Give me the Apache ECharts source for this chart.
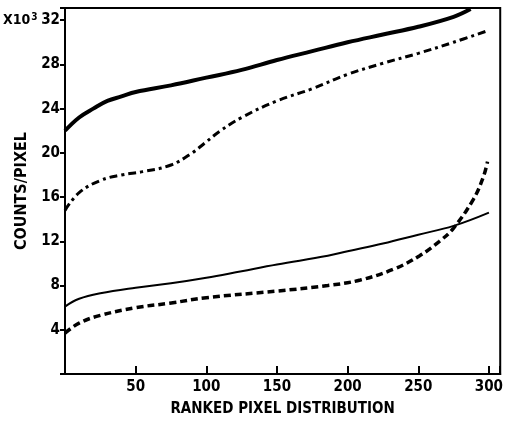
<!DOCTYPE html>
<html>
<head>
<meta charset="utf-8">
<script src="https://cdn.jsdelivr.net/npm/echarts@6/dist/echarts.min.js"></script>
<style>
  html, body { margin: 0; padding: 0; background: #fff; }
  #chart { width: 506px; height: 422px; }
</style>
</head>
<body>
<div id="chart"></div>
<script>
// counts per pixel (x10^3) vs ranked pixel index
const thickSolid = [[0, 22.0], [10, 23.2], [20, 24.0], [30, 24.7], [40, 25.1], [50, 25.5], [75, 26.1], [100, 26.8], [125, 27.5], [150, 28.4], [175, 29.2], [200, 30.0], [225, 30.7], [250, 31.4], [275, 32.3], [287, 33.0]]
const dashDot = [[0, 14.8], [10, 16.4], [25, 17.5], [40, 18.0], [55, 18.3], [75, 18.9], [90, 20.0], [100, 21.0], [110, 22.0], [125, 23.2], [150, 24.7], [175, 25.8], [200, 27.1], [225, 28.1], [250, 29.0], [275, 30.0], [298, 31.0]]
const thinSolid = [[0, 6.1], [10, 6.8], [25, 7.3], [50, 7.8], [75, 8.2], [100, 8.7], [125, 9.3], [150, 9.9], [186, 10.7], [200, 11.1], [225, 11.8], [250, 12.6], [275, 13.4], [300, 14.6]]
const dashed = [[0, 3.7], [10, 4.6], [25, 5.3], [50, 6.0], [74, 6.4], [100, 6.9], [150, 7.5], [186, 8.0], [209, 8.5], [233, 9.5], [251, 10.7], [265, 12.0], [275, 13.2], [289, 15.8], [296, 17.8], [299, 19.2]]

const yTicks = [4, 8, 12, 16, 20, 24, 28, 32]
const xTicks = [50, 100, 150, 200, 250, 300]

const font = '"Liberation Sans Narrow", "DejaVu Sans Condensed", "DejaVu Sans"'
const chart = echarts.init(document.getElementById('chart'))

const lineSeries = (data, width, type) => ({
  type: 'line',
  data: data,
  smooth: 0.4,
  showSymbol: false,
  lineStyle: { color: '#000', width: width, type: type },
  z: 3
})

const option = {
  animation: false,
  grid: {
    left: 65, right: 1, top: 8, bottom: 42,
    show: true, borderColor: '#000', borderWidth: 2
  },
  xAxis: {
    type: 'value',
    min: 0,
    max: 308,
    interval: 50,
    splitLine: { show: false },
    axisLine: { lineStyle: { color: '#000', width: 2 } },
    axisTick: { inside: true, length: 8, lineStyle: { color: '#000', width: 2 } },
    axisLabel: {
      margin: 6,
      color: '#000', fontFamily: font, fontWeight: 'bold', fontSize: 15,
      formatter: v => (xTicks.includes(v) ? String(v) : '')
    },
    name: 'RANKED PIXEL DISTRIBUTION',
    nameLocation: 'middle',
    nameGap: 28,
    nameTextStyle: { color: '#000', fontFamily: font, fontWeight: 'bold', fontSize: 15 }
  },
  yAxis: {
    type: 'value',
    min: 0,
    max: 33.1,
    interval: 4,
    splitLine: { show: false },
    axisLine: { lineStyle: { color: '#000', width: 2 } },
    axisTick: { inside: false, length: 5, lineStyle: { color: '#000', width: 2 } },
    axisLabel: {
      margin: 5,
      color: '#000', fontFamily: font, fontWeight: 'bold', fontSize: 15,
      formatter: v => (yTicks.includes(v) ? String(v) : '')
    },
    name: 'COUNTS/PIXEL',
    nameLocation: 'middle',
    nameGap: 33,
    nameTextStyle: { color: '#000', fontFamily: font, fontWeight: 'bold', fontSize: 16 }
  },
  graphic: [{
    type: 'text',
    left: 3,
    top: 12,
    style: {
      text: '{a|X10}{s|3}',
      rich: {
        a: { fill: '#000', font: 'bold 14px ' + font },
        s: { fill: '#000', font: 'bold 10px ' + font, verticalAlign: 'top', padding: [0, 0, 6, 1] }
      }
    }
  }],
  series: [
    lineSeries(thickSolid, 4, 'solid'),
    lineSeries(dashDot, 3, [8, 4, 3, 4]),
    lineSeries(thinSolid, 2, 'solid'),
    lineSeries(dashed, 3.5, [7, 4])
  ]
}

chart.setOption(option)
</script>
</body>
</html>
